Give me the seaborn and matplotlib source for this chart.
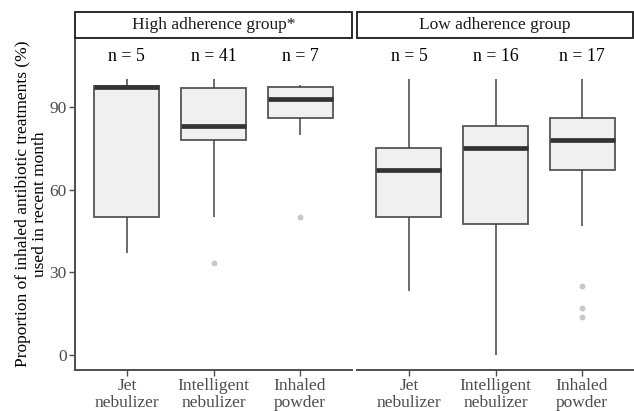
import matplotlib
matplotlib.use("Agg")
import matplotlib.pyplot as plt
import seaborn as sns
import pandas as pd
from matplotlib.patches import Rectangle

# ---- data ----
categories = ["Jet\nnebulizer", "Intelligent\nnebulizer", "Inhaled\npowder"]
groups = ["High adherence group*", "Low adherence group"]

high_whisker_low = [37.0, 50.0, 80.0]
high_q1 = [50.0, 78.0, 86.0]
high_median = [97.2, 83.0, 93.0]
high_q3 = [97.6, 97.0, 97.4]
high_whisker_high = [100.0, 100.0, 98.0]
high_outliers = [[], [33.3], [50.0]]
high_n = [5, 41, 7]

low_whisker_low = [23.3, 0.0, 47.0]
low_q1 = [50.0, 47.6, 67.0]
low_median = [67.0, 75.0, 78.0]
low_q3 = [75.0, 83.0, 86.0]
low_whisker_high = [100.0, 100.0, 100.0]
low_outliers = [[], [], [25.0, 17.0, 14.0]]
low_n = [5, 16, 17]

sns.set_theme(style="white")
plt.rcParams["font.family"] = ["Liberation Serif", "DejaVu Serif"]

W, H = 634, 411
fig = plt.figure(figsize=(W / 100, H / 100), dpi=100)

ax_w = 277 / W
ax_b = 1 - 370 / H
ax_h = (370 - 38) / H
lefts = [75 / W, 1 - ax_w]

grey_txt = "#4D4D4D"
fs = 12.5

sets = [
    (high_whisker_low, high_q1, high_median, high_q3, high_whisker_high, high_outliers, high_n),
    (low_whisker_low, low_q1, low_median, low_q3, low_whisker_high, low_outliers, low_n),
]

for gi, (wl, q1, med, q3, wh, outl, ns) in enumerate(sets):
    ax = fig.add_axes([lefts[gi], ax_b, ax_w, ax_h])
    rows = []
    for ci, cat in enumerate(categories):
        for v in (wl[ci], q1[ci], med[ci], q3[ci], wh[ci]):
            rows.append({"device": cat, "value": v})
    df = pd.DataFrame(rows)
    sns.boxplot(
        data=df, x="device", y="value", order=categories, ax=ax,
        whis=(0, 100), showfliers=False, width=0.75,
        color="#F0F0F0", linewidth=1.3, linecolor="#555555",
        medianprops=dict(color="#333333", linewidth=3.4),
        whiskerprops=dict(color="#444444", linewidth=1.1),
        capprops=dict(linewidth=0),
        boxprops=dict(facecolor="#F0F0F0", edgecolor="#555555"),
    )
    orows = [{"device": cat, "value": v} for ci, cat in enumerate(categories) for v in outl[ci]]
    if orows:
        odf = pd.DataFrame(orows)
        sns.stripplot(data=odf, x="device", y="value", order=categories, ax=ax,
                      jitter=False, color="#C8C8C8", size=4.2, linewidth=0)
    for ci in range(len(categories)):
        ax.text(ci, 108.2, f"n = {ns[ci]}", ha="center", va="center",
                fontsize=fs + 0.3, color="black")

    ax.set_xlim(-0.6, 2.6)
    ax.set_ylim(-5.4, 115)
    ax.set_xlabel("")
    ax.set_ylabel("")
    ax.set_facecolor("white")
    for s in ["top", "right"]:
        ax.spines[s].set_visible(False)
    ax.spines["bottom"].set_color("#4D4D4D")
    ax.spines["bottom"].set_linewidth(1.4)
    ax.tick_params(axis="x", bottom=True, length=4, width=1.0, color="#4D4D4D",
                   labelsize=fs, labelcolor=grey_txt, pad=1.5)
    if gi == 0:
        ax.spines["left"].set_color("#4D4D4D")
        ax.spines["left"].set_linewidth(1.4)
        ax.set_yticks([0, 30, 60, 90])
        ax.tick_params(axis="y", left=True, length=4, width=1.0, color="#4D4D4D",
                       labelsize=fs, labelcolor=grey_txt, pad=2)
        ax.set_ylabel("Proportion of inhaled antibiotic treatments (%)\nused in recent month",
                      fontsize=fs, color="black", linespacing=1.1, labelpad=1)
    else:
        ax.spines["left"].set_visible(False)
        ax.set_yticks([])
    for lab in ax.get_xticklabels():
        lab.set_linespacing(1.1)
    ax.grid(False)

    # facet strip
    sx0 = lefts[gi] * W
    sx1 = min(sx0 + 277, W - 1)
    fig.patches.append(Rectangle((sx0 / W, 1 - 38 / H), (sx1 - sx0) / W, 26 / H,
                                 transform=fig.transFigure, facecolor="white",
                                 edgecolor="#1A1A1A", linewidth=1.3))
    fig.text((sx0 + sx1) / 2 / W, 1 - 25 / H, groups[gi], ha="center", va="center",
             fontsize=fs, color="#1A1A1A")

fig.savefig("out.png", dpi=100, facecolor="white")
